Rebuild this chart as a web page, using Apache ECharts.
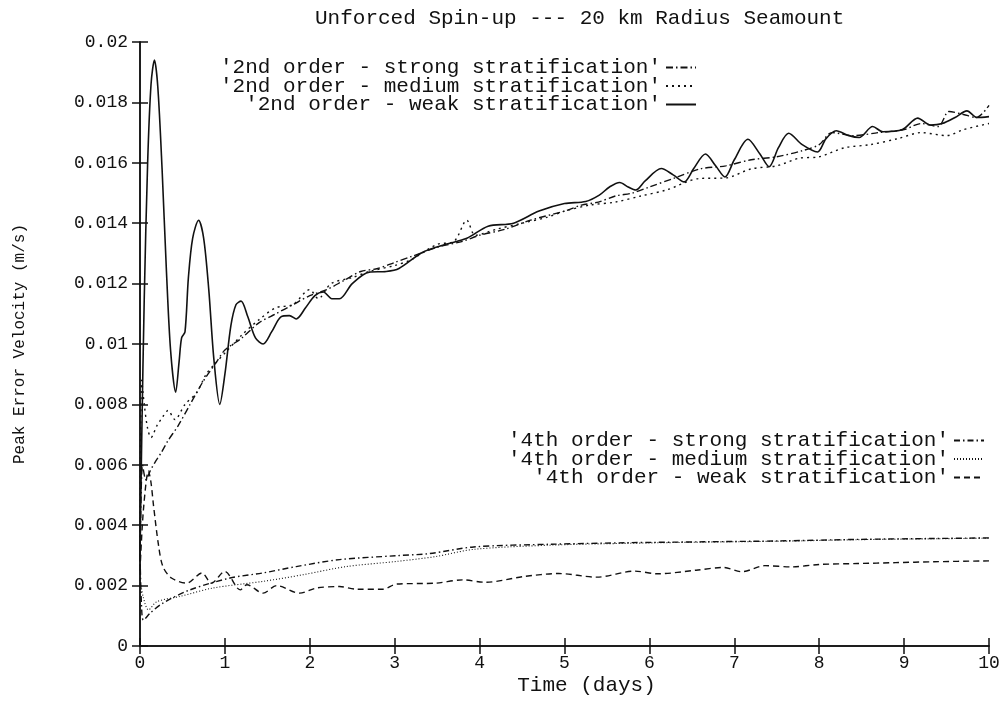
<!DOCTYPE html>
<html>
<head>
<meta charset="utf-8">
<script src="https://cdn.jsdelivr.net/npm/echarts@6/dist/echarts.min.js"></script>
<style>
  html, body { margin: 0; padding: 0; background: #fff; }
  #chart { width: 1007px; height: 701px; }
</style>
</head>
<body>
<div id="chart"></div>
<script>
// Peak error velocity (m/s) against time (days), [t, v] pairs per run
const strong2 = [
  [0, 0.0028], [0.03, 0.0060], [0.07, 0.0055], [0.12, 0.0058], [0.18, 0.0061], [0.25, 0.0064],
  [0.33, 0.0068], [0.45, 0.0073], [0.59, 0.0080], [0.73, 0.0087], [0.8, 0.0090], [0.9, 0.0094],
  [1.0, 0.0098], [1.2, 0.0102], [1.4, 0.0107], [1.6, 0.0110], [1.8, 0.0113], [2.0, 0.0116],
  [2.2, 0.0118], [2.4, 0.0121], [2.6, 0.0124], [2.8, 0.0125], [3.0, 0.0127], [3.2, 0.0129],
  [3.5, 0.0132], [3.8, 0.0134], [4.0, 0.0136], [4.3, 0.0138], [4.6, 0.0141], [5.0, 0.0144],
  [5.2, 0.0146], [5.4, 0.0147], [5.6, 0.0149], [5.8, 0.0150], [6.0, 0.0152], [6.3, 0.0155],
  [6.6, 0.0158], [6.9, 0.0159], [7.2, 0.0161], [7.5, 0.0162], [7.8, 0.0164], [8.0, 0.0166],
  [8.15, 0.0170], [8.4, 0.0169], [8.7, 0.0170], [9.0, 0.0171], [9.2, 0.0173], [9.4, 0.0172],
  [9.53, 0.0177], [9.7, 0.0176], [9.85, 0.0175], [10, 0.0179]
];
const medium2 = [
  [0, 0.0030], [0.02, 0.0088], [0.05, 0.0080], [0.09, 0.0072], [0.13, 0.0069], [0.2, 0.0073],
  [0.27, 0.0076], [0.33, 0.0078], [0.41, 0.0075], [0.53, 0.0080], [0.67, 0.0084], [0.78, 0.0090],
  [0.9, 0.0094], [1.0, 0.0097], [1.2, 0.0103], [1.4, 0.0108], [1.6, 0.0112], [1.8, 0.0113],
  [2.0, 0.0118], [2.1, 0.0115], [2.25, 0.0120], [2.5, 0.0122], [2.7, 0.0124], [3.0, 0.0126],
  [3.2, 0.0128], [3.5, 0.0133], [3.7, 0.0134], [3.85, 0.0141], [3.95, 0.0136], [4.2, 0.0138],
  [4.5, 0.0140], [4.8, 0.0142], [5.0, 0.0144], [5.3, 0.0146], [5.6, 0.0147], [5.9, 0.0149],
  [6.2, 0.0151], [6.59, 0.01548], [6.9, 0.0155], [7.2, 0.0158], [7.5, 0.0159], [7.76, 0.01615],
  [8.0, 0.0162], [8.3, 0.0165], [8.6, 0.0166], [8.94, 0.01681], [9.2, 0.0170], [9.5, 0.0169],
  [9.7, 0.0171], [10, 0.0173]
];
const weak2 = [
  [0, 0.0030], [0.02, 0.0068], [0.05, 0.0115], [0.09, 0.0160], [0.13, 0.0186], [0.17, 0.0194],
  [0.21, 0.0185], [0.26, 0.0158], [0.31, 0.0125], [0.36, 0.0098], [0.42, 0.0084], [0.46, 0.0094],
  [0.49, 0.0102], [0.53, 0.0104], [0.57, 0.0122], [0.62, 0.0135], [0.69, 0.0141], [0.75, 0.0135],
  [0.81, 0.0118], [0.87, 0.0095], [0.94, 0.0080], [1.0, 0.0090], [1.07, 0.0106], [1.13, 0.0113],
  [1.19, 0.01142], [1.27, 0.0109], [1.36, 0.0102], [1.45, 0.0100], [1.55, 0.0104], [1.66, 0.0109],
  [1.76, 0.01094], [1.84, 0.01083], [1.95, 0.0112], [2.06, 0.0116], [2.16, 0.01172], [2.26, 0.0115],
  [2.35, 0.0115], [2.5, 0.0120], [2.7, 0.01238], [2.9, 0.0124], [3.05, 0.0125], [3.33, 0.01304],
  [3.6, 0.0133], [3.85, 0.0135], [4.1, 0.0139], [4.4, 0.0140], [4.7, 0.0144], [5.0, 0.01465],
  [5.25, 0.01472], [5.41, 0.01493], [5.53, 0.0152], [5.65, 0.01535], [5.75, 0.0152], [5.84, 0.0151],
  [5.95, 0.0154], [6.14, 0.01581], [6.28, 0.0156], [6.41, 0.01537], [6.52, 0.0158], [6.66, 0.01629],
  [6.78, 0.0159], [6.89, 0.01553], [7.0, 0.0161], [7.16, 0.01678], [7.3, 0.0163], [7.41, 0.01587],
  [7.52, 0.0165], [7.64, 0.01698], [7.8, 0.0166], [7.98, 0.01636], [8.08, 0.0168], [8.2, 0.01706],
  [8.35, 0.0169], [8.47, 0.01684], [8.63, 0.0172], [8.75, 0.01703], [8.98, 0.0171], [9.16, 0.01748],
  [9.31, 0.01725], [9.45, 0.0173], [9.6, 0.0175], [9.74, 0.01772], [9.86, 0.0175], [10, 0.01753]
];
const strong4 = [
  [0, 0.0030], [0.02, 0.0012], [0.04, 0.00086], [0.12, 0.00109], [0.27, 0.00142], [0.59, 0.00186],
  [1.06, 0.00225], [1.45, 0.00242], [1.84, 0.00263], [2.35, 0.00286], [3.02, 0.00299], [3.41, 0.00306],
  [3.93, 0.00328], [4.84, 0.00337], [5.74, 0.00342], [6.64, 0.00345], [7.55, 0.00348], [8.45, 0.00353],
  [9.35, 0.00356], [10, 0.00358]
];
const medium4 = [
  [0, 0.0022], [0.04, 0.0016], [0.1, 0.0012], [0.2, 0.00147], [0.47, 0.00164], [0.86, 0.00192],
  [1.45, 0.00214], [1.92, 0.00236], [2.43, 0.00263], [3.02, 0.0028], [3.48, 0.00296], [3.93, 0.0032],
  [4.84, 0.00334], [5.74, 0.0034], [6.64, 0.00344], [7.55, 0.00347], [8.45, 0.00352], [9.35, 0.00355],
  [10, 0.00357]
];
const weak4 = [
  [0, 0.0025], [0.04, 0.0045], [0.1, 0.0058], [0.13, 0.0054], [0.16, 0.00463], [0.22, 0.0033],
  [0.27, 0.00263], [0.37, 0.00225], [0.55, 0.00208], [0.73, 0.00242], [0.84, 0.00208], [1.0, 0.00247],
  [1.18, 0.00186], [1.26, 0.00203], [1.45, 0.00175], [1.61, 0.002], [1.88, 0.00175], [2.08, 0.00192],
  [2.35, 0.00197], [2.55, 0.00188], [2.86, 0.00188], [3.02, 0.00205], [3.48, 0.00208], [3.8, 0.00219],
  [4.07, 0.00211], [4.52, 0.0023], [4.93, 0.0024], [5.38, 0.00228], [5.83, 0.00248], [6.1, 0.00239],
  [6.55, 0.00251], [6.87, 0.0026], [7.09, 0.00246], [7.36, 0.00266], [7.68, 0.00262], [8.0, 0.0027],
  [8.45, 0.00273], [8.9, 0.00276], [9.35, 0.00279], [10, 0.00282]
];

const names2 = [
  "'2nd order - strong stratification'",
  "'2nd order - medium stratification'",
  "'2nd order - weak stratification'"
];
const names4 = [
  "'4th order - strong stratification'",
  "'4th order - medium stratification'",
  "'4th order - weak stratification'"
];
const titleText = 'Unforced Spin-up --- 20 km Radius Seamount';
const xName = 'Time (days)';
const yName = 'Peak Error Velocity (m/s)';

const MONO = "'Liberation Mono', 'DejaVu Sans Mono', monospace";
const INK = '#111';

function curve(name, data, dash, width) {
  return {
    name: name,
    type: 'line',
    data: data,
    showSymbol: false,
    symbol: 'none',
    smooth: 0.3,
    animation: false,
    color: INK,
    itemStyle: { color: INK },
    lineStyle: { color: INK, width: width || 1.4, type: dash }
  };
}

function legendBlock(names, top, right) {
  return {
    data: names,
    orient: 'vertical',
    align: 'right',
    top: top,
    right: right,
    padding: 0,
    itemGap: -2.5,
    itemWidth: 30,
    itemHeight: 14,
    selectedMode: false,
    itemStyle: { opacity: 0 },
    textStyle: { fontFamily: MONO, fontSize: 21, color: INK, lineHeight: 18 }
  };
}

const chart = echarts.init(document.getElementById('chart'), null, { renderer: 'canvas' });
chart.setOption({
  backgroundColor: '#fff',
  animation: false,
  title: {
    text: titleText,
    left: 310,
    top: 3,
    textStyle: { fontFamily: MONO, fontSize: 21, fontWeight: 'normal', color: INK }
  },
  grid: { left: 140, right: 18, top: 42, bottom: 55, outerBoundsMode: 'none', containLabel: false },
  legend: [legendBlock(names2, 57, 310), legendBlock(names4, 430, 22)],
  xAxis: [{
    type: 'value', min: 0, max: 10, interval: 1,
    name: xName, nameLocation: 'middle', nameGap: 29, nameMoveOverlap: false,
    nameTextStyle: { fontFamily: MONO, fontSize: 21, color: INK, padding: [0, 0, 0, 44] },
    axisLine: { lineStyle: { color: INK, width: 1.5 } },
    axisTick: { inside: true, length: 8, lineStyle: { color: INK, width: 1.5 } },
    axisLabel: { fontFamily: MONO, fontSize: 18, color: INK, margin: 8 },
    splitLine: { show: false }
  }, {
    type: 'value', min: 0, max: 10, interval: 1, position: 'top',
    axisLine: { lineStyle: { color: INK, width: 1.5 } },
    axisTick: { inside: true, length: 8, lineStyle: { color: INK, width: 1.5 } },
    axisLabel: { show: false },
    splitLine: { show: false }
  }],
  yAxis: [{
    type: 'value', min: 0, max: 0.02, interval: 0.002,
    name: yName, nameLocation: 'middle', nameGap: 112, nameRotate: 90, nameMoveOverlap: false,
    nameTextStyle: { fontFamily: MONO, fontSize: 16, color: INK },
    axisLine: { show: true, lineStyle: { color: INK, width: 1.5 } },
    axisTick: { show: true, inside: true, length: 8, lineStyle: { color: INK, width: 1.5 } },
    axisLabel: { fontFamily: MONO, fontSize: 18, color: INK, margin: 12 },
    splitLine: { show: false }
  }, {
    type: 'value', min: 0, max: 0.02, interval: 0.002, position: 'right',
    axisLine: { show: true, lineStyle: { color: INK, width: 1.5 } },
    axisTick: { show: true, inside: true, length: 8, lineStyle: { color: INK, width: 1.5 } },
    axisLabel: { show: false },
    splitLine: { show: false }
  }],
  series: [
    curve(names2[0], strong2, [7, 3, 1.5, 3]),
    curve(names2[1], medium2, [2, 4]),
    curve(names2[2], weak2, 'solid', 1.6),
    curve(names4[0], strong4, [6, 3, 1.5, 3]),
    curve(names4[1], medium4, [1, 2], 1.1),
    curve(names4[2], weak4, [6, 4])
  ]
});
</script>
</body>
</html>
